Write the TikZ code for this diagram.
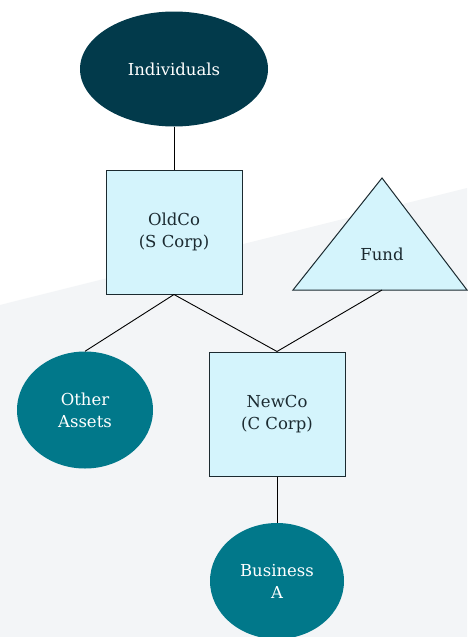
\documentclass[tikz,border=0pt]{standalone}
\usepackage{fontspec}
\setmainfont{DejaVu Serif}
\usetikzlibrary{shapes.geometric}

\definecolor{deepteal}{HTML}{023A4B}
\definecolor{midteal}{HTML}{01788A}
\definecolor{paleblue}{HTML}{D4F4FC}
\definecolor{backgray}{HTML}{F3F5F7}
\definecolor{inkdark}{HTML}{1B2A30}

\tikzset{
    entity/.style={draw=inkdark, line width=1pt, fill=paleblue, text=inkdark,
        minimum width=136, minimum height=124, align=center, inner sep=0},
    holder/.style={ellipse, fill=#1, text=white, align=center, inner sep=0},
    link/.style={draw=black, line width=0.9pt},
}

\begin{document}
\begin{tikzpicture}[x=1pt, y=-1pt, font=\fontsize{16.5}{22}\selectfont]
    \useasboundingbox (0,0) rectangle (467,637);
    % Background band
    \fill[white] (0,0) rectangle (467,637);
    \fill[backgray] (0,305) -- (467,188) -- (467,637) -- (0,637) -- cycle;

    % Owners
    \node[holder=deepteal, minimum width=188, minimum height=115] (individuals) at (174,69) {Individuals};

    % Entities
    \node[entity] (oldco) at (174,232) {OldCo\\(S Corp)};
    \node[entity] (newco) at (277,414) {NewCo\\(C Corp)};

    % Fund triangle
    \draw[inkdark, line width=1pt, fill=paleblue] (382,178) -- (467,290) -- (293,290) -- cycle;
    \coordinate (fundbase) at (382,290);
    \node[text=inkdark] (fund) at (382,254) {Fund};

    % Assets
    \node[holder=midteal, minimum width=136, minimum height=117] (otherassets) at (85,410) {Other\\Assets};
    \node[holder=midteal, minimum width=134, minimum height=116] (businessa) at (277,581) {Business\\A};

    % Ownership lines
    \draw[link] (individuals.south) -- (oldco.north);
    \draw[link] (oldco.south) -- (otherassets.north);
    \draw[link] (oldco.south) -- (newco.north);
    \draw[link] (fundbase) -- (newco.north);
    \draw[link] (newco.south) -- (businessa.north);
\end{tikzpicture}
\end{document}
